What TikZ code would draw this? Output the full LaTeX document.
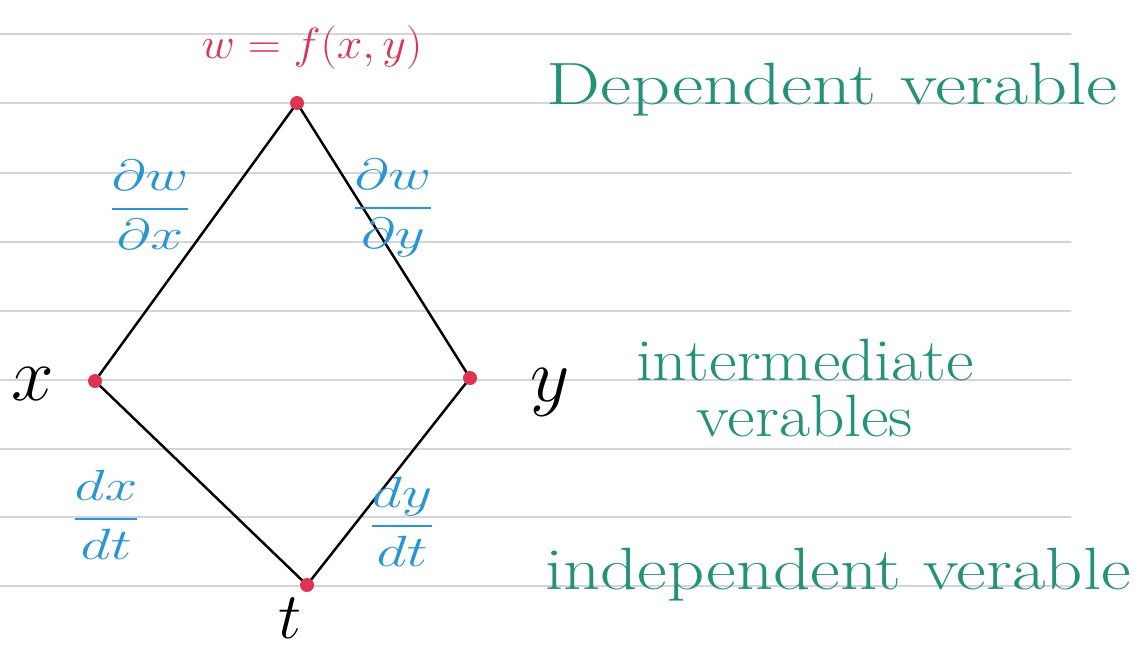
\documentclass[tikz,border=0pt]{standalone}
\usepackage{amsmath}
\usepackage{xcolor}
\usepackage{tikz}

\definecolor{inkred}{RGB}{222,52,84}
\definecolor{inkblue}{RGB}{38,150,212}
\definecolor{inkgreen}{RGB}{36,146,118}
\definecolor{ruleline}{RGB}{214,211,222}

\newcommand{\wide}[2]{\scalebox{#1}[1]{#2}}
\newcommand{\enlarged}[2][1.75]{\scalebox{#1}{#2}}

\tikzset{
    vertex/.style={inkred},
    rate/.style={inkblue, font=\fontsize{24.88}{30}\selectfont},
    note/.style={inkgreen, font=\fontsize{34}{38}\selectfont},
    varname/.style={font=\fontsize{24.88}{30}\selectfont}
}

\begin{document}
\begin{tikzpicture}[x=0.02cm, y=-0.02cm, line cap=round]

    % Page size
    \useasboundingbox (0,0) rectangle (1148,650);
    \fill[white] (0,0) rectangle (1148,650);

    % Ruled paper
    \foreach \ly in {34,103,173,242,311,380,449,517,586}
        \draw[ruleline, line width=0.6pt] (0,\ly) -- (1071,\ly);

    % The tree: w on top, x and y in the middle, t at the bottom
    \coordinate (w) at (297,103);
    \coordinate (x) at (95,381);
    \coordinate (y) at (470,378);
    \coordinate (t) at (307,585);

    \draw[line width=1.4pt] (w) -- (x) -- (t) -- (y) -- cycle;

    \foreach \p in {w,x,y,t}
        \fill[vertex] (\p) circle (7);

    % Names of the variables
    \node[inkred, font=\fontsize{31}{34}\selectfont] (wlabel) at (312,48)
        {\wide{1.05}{$w = f(x,y)$}};
    \node[varname] (xlabel) at (33,384) {\enlarged{$x$}};
    \node[varname] (ylabel) at (550,392) {\enlarged{$y$}};
    \node[varname, inner sep=0pt] (tlabel) at (290,618) {\enlarged[1.5]{$t$}};

    % Partial and total derivatives along the branches
    \node[rate] (dwdx) at (150,205) {\wide{1.35}{$\dfrac{\partial w}{\partial x}$}};
    \node[rate] (dwdy) at (393,208) {\wide{1.35}{$\dfrac{\partial w}{\partial y}$}};
    \node[rate] (dxdt) at (106,515) {\wide{1.35}{$\dfrac{dx}{dt}$}};
    \node[rate] (dydt) at (402,522) {\wide{1.35}{$\dfrac{dy}{dt}$}};

    % Levels
    \node[note] (dep) at (832,90) {\wide{1.28}{Dependent verable}};
    \node[note, align=center] (inter) at (805,388)
        {\wide{1.13}{intermediate}\\[-6pt] \wide{1.13}{verables}};
    \node[note] (indep) at (838,575) {\wide{1.22}{independent verable}};

\end{tikzpicture}
\end{document}
